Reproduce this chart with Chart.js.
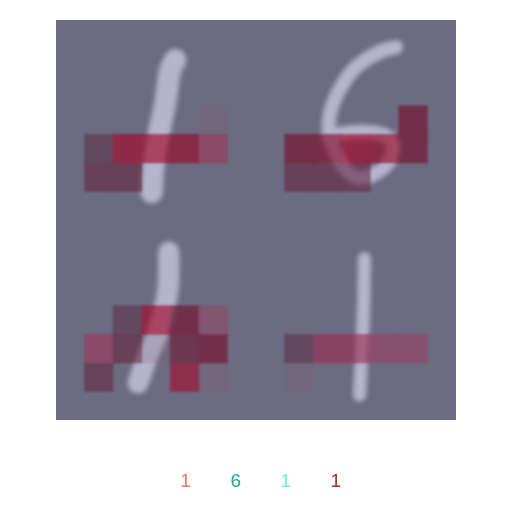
<!DOCTYPE html>
<html>
<head>
<meta charset="utf-8">
<script src="https://cdn.jsdelivr.net/npm/chart.js@4.4.1/dist/chart.umd.min.js"></script>
<style>
  html, body { margin: 0; padding: 0; background: #ffffff; }
  #wrap { width: 512px; height: 512px; }
</style>
</head>
<body>
<div id="wrap"><canvas id="myChart" width="512" height="512"></canvas></div>
<script>
// heatmap columns (4x4 pixel blocks, two digits side by side)
const columns = ['0','1','2','3','4','5','6','7','8','9','10','11','12','13'];

// attribution per block, rows top to bottom (0 = no overlay)
const heatRows = [
  [0,0,0,0,0,0,0,   0,0,0,0,0,0,0],
  [0,0,0,0,0,0,0,   0,0,0,0,0,0,0],
  [0,0,0,0,0,0,0,   0,0,0,0,0,0,0],
  [0,0,0,0,0,0.06,0, 0,0,0,0,0,0.85,0],
  [0,1,0.65,0.65,0.7,0.4,0, 0,0.85,0.8,0.65,0.7,0.85,0],
  [0,0.95,0.95,0,0,0,0, 0,0.95,0.95,0.95,0,0,0],
  [0,0,0,0,0,0,0,   0,0,0,0,0,0,0],
  [0,0,0,0,0,0,0,   0,0,0,0,0,0,0],
  [0,0,0,0,0,0,0,   0,0,0,0,0,0,0],
  [0,0,0,0,0,0,0,   0,0,0,0,0,0,0],
  [0,0,1,0.65,0.85,0.3,0, 0,0,0,0,0,0,0],
  [0,0.4,0.95,0.05,0.9,0.85,0, 0,1,0.45,0.45,0.35,0.35,0],
  [0,0.97,0,0,0.6,0.1,0, 0,0.06,0,0,0,0,0],
  [0,0,0,0,0,0,0,   0,0,0,0,0,0,0]
];

// digit strokes in 28x28 pixel coords, one per panel (TL, TR, BL, BR)
const strokeOne = [[16.7,5.6],[16.0,7.0],[15.3,11.6],[14.3,16.4],[13.6,21.0],[13.4,24.1]];
const strokeSix = [[19.6,3.8],[17.2,4.5],[14.0,6.6],[11.9,9.4],[10.5,12.6],[10.2,15.4],[11.2,18.6],
  [12.6,21.0],[14.4,22.1],[16.8,21.4],[18.5,20.0],[19.2,17.9],[18.5,16.4],[15.8,15.7],[12.6,15.8],[10.1,16.4]];
const strokeOneB = [[15.8,4.5],[15.7,9.4],[15.1,12.6],[14.0,16.4],[12.6,19.6],[11.5,22.8]];
const strokeOneC = [[15.2,5.4],[15.0,14.0],[14.5,24.5]];
const digitStrokes = [strokeOne, strokeSix, strokeOneB, strokeOneC];
const strokeWidths = [22, 14, 21, 13];

// predicted labels under the grid
const predLabels = ['1', '6', '1', '1'];
const labelColors = ['#e8765f', '#1bab91', '#70f0cf', '#a4301f'];

const bgColor = 'rgb(108,108,128)';
const strokeColor = 'rgb(180,180,206)';

// overlay colour stops (rgba): faint -> mauve -> red -> maroon -> dark purple
const heatStops = [
  [0.0, [128, 95, 118, 0.15]],
  [0.35, [153, 61, 98, 0.6]],
  [0.65, [165, 0, 35, 0.62]],
  [0.85, [120, 11, 40, 0.62]],
  [1.0, [91, 48, 73, 0.58]]
];
const heatColor = (v) => {
  for (let i = 1; i < heatStops.length; i++) {
    if (v <= heatStops[i][0]) {
      const [v0, c0] = heatStops[i - 1];
      const [v1, c1] = heatStops[i];
      const t = (v - v0) / (v1 - v0);
      const c = c0.map((a, k) => a + (c1[k] - a) * t);
      return `rgba(${Math.round(c[0])},${Math.round(c[1])},${Math.round(c[2])},${c[3].toFixed(3)})`;
    }
  }
  return 'rgba(91,48,73,0.58)';
};

const heatDatasets = heatRows.map((row, r) => ({
  type: 'bar',
  label: 'row ' + r,
  data: row.map((v) => (v > 0 ? [r, r + 1] : null)),
  backgroundColor: row.map((v) => heatColor(v)),
  borderWidth: 0,
  borderSkipped: false,
  grouped: false,
  barPercentage: 1,
  categoryPercentage: 1,
  order: 1
}));

const strokeDatasets = digitStrokes.map((pts, p) => ({
  type: 'line',
  label: 'digit ' + p,
  xAxisID: 'x2',
  yAxisID: 'y2',
  data: pts.map(([x, y]) => ({ x: x + (p % 2) * 28, y: y + Math.floor(p / 2) * 28 })),
  borderColor: strokeColor,
  borderWidth: strokeWidths[p],
  borderCapStyle: 'round',
  borderJoinStyle: 'round',
  tension: 0.4,
  pointRadius: 0,
  fill: false,
  order: 2
}));

const imagePlugin = {
  id: 'imagePlugin',
  beforeDatasetsDraw(chart) {
    const { ctx, chartArea } = chart;
    ctx.save();
    ctx.fillStyle = bgColor;
    ctx.fillRect(chartArea.left, chartArea.top, chartArea.right - chartArea.left, chartArea.bottom - chartArea.top);
    ctx.restore();
  },
  beforeDatasetDraw(chart, args) {
    chart.ctx.save();
    chart.ctx.filter = args.meta.type === 'line' ? 'blur(2.5px)' : 'blur(1px)';
  },
  afterDatasetDraw(chart) {
    chart.ctx.restore();
  }
};

new Chart(document.getElementById('myChart'), {
  type: 'bar',
  data: {
    labels: columns,
    datasets: [...strokeDatasets, ...heatDatasets]
  },
  options: {
    responsive: false,
    animation: false,
    layout: { padding: { left: 56, right: 56, top: 20, bottom: 10.5 } },
    scales: {
      x: { display: false, offset: true },
      y: { display: false, reverse: true, min: 0, max: 14, beginAtZero: false },
      x2: { type: 'linear', display: false, offset: false, min: 0, max: 56 },
      y2: { type: 'linear', display: false, reverse: true, min: 0, max: 56, beginAtZero: false }
    },
    plugins: {
      tooltip: { enabled: false },
      legend: {
        position: 'bottom',
        onClick: null,
        title: { display: true, text: '', padding: 5, font: { size: 10, lineHeight: 1.25 } },
        labels: {
          boxWidth: 0,
          boxHeight: 0,
          padding: 30,
          font: { family: 'Liberation Sans', size: 19 },
          generateLabels: () => predLabels.map((t, i) => ({
            text: t,
            fontColor: labelColors[i],
            fillStyle: 'rgba(0,0,0,0)',
            strokeStyle: 'rgba(0,0,0,0)',
            lineWidth: 0,
            hidden: false,
            index: i
          }))
        }
      }
    }
  },
  plugins: [imagePlugin]
});
</script>
</body>
</html>
